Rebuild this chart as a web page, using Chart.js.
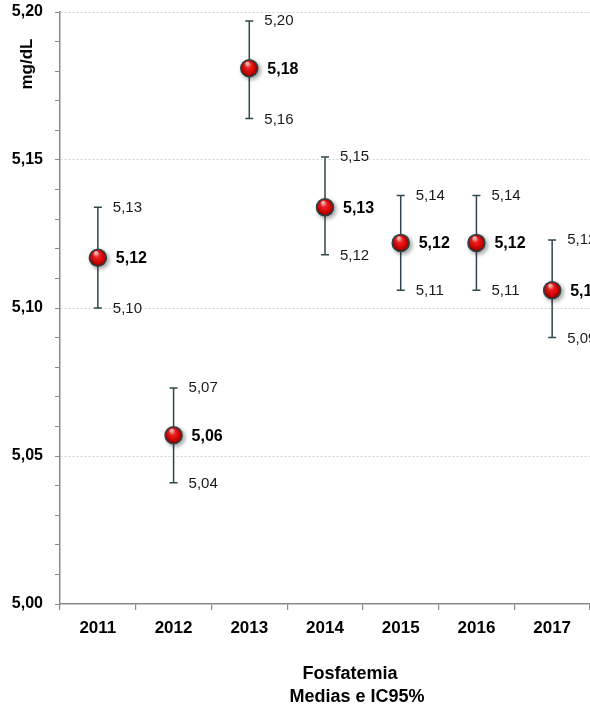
<!DOCTYPE html>
<html>
<head>
<meta charset="utf-8">
<script src="https://cdn.jsdelivr.net/npm/chart.js@4/dist/chart.umd.min.js"></script>
<style>
  html, body { margin: 0; padding: 0; background: #fff; overflow: hidden; }
  #wrap { position: relative; width: 600px; height: 711px; }
</style>
</head>
<body>
<div id="wrap"><canvas id="chart"></canvas></div>
<script>
// ==================== DATA ====================
const years = ['2011', '2012', '2013', '2014', '2015', '2016', '2017'];
const means = [5.117, 5.057, 5.181, 5.134, 5.122, 5.122, 5.106];
const upper = [5.134, 5.073, 5.197, 5.151, 5.138, 5.138, 5.123];
const lower = [5.100, 5.041, 5.164, 5.118, 5.106, 5.106, 5.090];
const yTicks = [5.00, 5.05, 5.10, 5.15, 5.20];

const FONT = '"Liberation Sans", Arial, sans-serif';
const fmt = v => v.toFixed(2).replace('.', ',');

// red glossy ball, built at each point's own position
function ballFill(context) {
  const chart = context.chart;
  const sx = chart.scales.x, sy = chart.scales.y;
  if (!sx || !sy || context.dataIndex === undefined) return '#d00';
  const x = sx.getPixelForValue(context.dataIndex);
  const y = sy.getPixelForValue(means[context.dataIndex]);
  if (!isFinite(x) || !isFinite(y)) return '#d00';
  const g = chart.ctx.createRadialGradient(x - 2, y - 5, 1, x, y, 9);
  g.addColorStop(0, '#ffc8c8');
  g.addColorStop(0.3, '#f42020');
  g.addColorStop(0.75, '#c80000');
  g.addColorStop(1, '#700000');
  return g;
}

// ==================== ERROR BARS + LABELS ====================
const errorBars = {
  id: 'errorBars',
  beforeDatasetsDraw(chart) {
    const { ctx, scales: { x, y } } = chart;
    ctx.save();
    ctx.strokeStyle = '#2e474c';
    ctx.lineWidth = 1.5;
    years.forEach((yr, i) => {
      const px = x.getPixelForValue(i);
      const top = y.getPixelForValue(upper[i]);
      const bot = y.getPixelForValue(lower[i]);
      ctx.beginPath();
      ctx.moveTo(px, top); ctx.lineTo(px, bot);
      ctx.moveTo(px - 4, top); ctx.lineTo(px + 4, top);
      ctx.moveTo(px - 4, bot); ctx.lineTo(px + 4, bot);
      ctx.stroke();
    });
    ctx.restore();
  },
  beforeDatasetDraw(chart) {
    const ctx = chart.ctx;
    ctx.save();
    ctx.shadowColor = 'rgba(0,0,0,0.35)';
    ctx.shadowBlur = 4;
    ctx.shadowOffsetX = 2;
    ctx.shadowOffsetY = 2;
  },
  afterDatasetDraw(chart) {
    chart.ctx.restore();
  },
  afterDatasetsDraw(chart) {
    const { ctx, scales: { x, y } } = chart;
    ctx.save();
    ctx.fillStyle = '#1a1a1a';
    ctx.textAlign = 'left';
    ctx.textBaseline = 'middle';
    years.forEach((yr, i) => {
      const px = x.getPixelForValue(i);
      ctx.font = '15px ' + FONT;
      ctx.fillText(fmt(upper[i]), px + 15, y.getPixelForValue(upper[i]));
      ctx.fillText(fmt(lower[i]), px + 15, y.getPixelForValue(lower[i]) + 1);
      ctx.font = 'bold 16px ' + FONT;
      ctx.fillStyle = '#000';
      ctx.fillText(fmt(means[i]), px + 18, y.getPixelForValue(means[i]) + 1);
      ctx.fillStyle = '#1a1a1a';
    });

    // axis title (top left, rotated)
    ctx.fillStyle = '#000';
    ctx.font = 'bold 17px ' + FONT;
    ctx.textAlign = 'center';
    ctx.translate(27, 64);
    ctx.rotate(-Math.PI / 2);
    ctx.fillText('mg/dL', 0, 0);
    ctx.restore();

    // bottom title
    ctx.save();
    ctx.fillStyle = '#000';
    ctx.font = 'bold 18px ' + FONT;
    ctx.textAlign = 'center';
    ctx.textBaseline = 'middle';
    ctx.fillText('Fosfatemia', 350, 674);
    ctx.fillText('Medias e IC95%', 357, 697);
    ctx.restore();
  }
};

// ==================== CHART ====================
new Chart(document.getElementById('chart'), {
  type: 'line',
  data: {
    labels: years,
    datasets: [{
      data: means,
      showLine: false,
      pointRadius: 8.5,
      pointHoverRadius: 8.5,
      pointBorderWidth: 1.5,
      pointBorderColor: '#2a4448',
      pointBackgroundColor: ballFill
    }]
  },
  options: {
    responsive: true,
    maintainAspectRatio: false,
    animation: false,
    layout: { padding: { top: 12, right: 8, left: 0, bottom: 0 } },
    plugins: {
      legend: { display: false },
      tooltip: { enabled: false }
    },
    scales: {
      x: {
        offset: true,
        grid: {
          offset: true,
          drawOnChartArea: false,
          tickLength: 6,
          tickColor: '#8a8a8a',
          lineWidth: 1.2
        },
        border: { color: '#8a8a8a', width: 1.5 },
        ticks: {
          color: '#000',
          font: { family: FONT, size: 17, weight: 'bold' },
          padding: 8,
          maxRotation: 0
        },
        afterFit(scale) {
          scale.height = 107;
          scale.paddingLeft = 0;
          scale.paddingRight = 0;
        }
      },
      y: {
        min: 5.00,
        max: 5.20,
        grid: {
          color: c => (c.tick && yTicks.some(t => Math.abs(t - c.tick.value) < 1e-6) && c.tick.value > 5.001) ? '#d2d2d2' : 'rgba(0,0,0,0)',
          tickColor: '#8a8a8a',
          tickLength: 5,
          lineWidth: 1
        },
        border: { color: '#8a8a8a', width: 1.5, dash: [2, 2] },
        ticks: {
          stepSize: 0.01,
          autoSkip: false,
          maxTicksLimit: 40,
          padding: 12,
          color: '#000',
          font: { family: FONT, size: 16, weight: 'bold' },
          callback: v => yTicks.some(t => Math.abs(t - v) < 1e-6) ? fmt(v) : ''
        },
        afterFit(scale) {
          scale.width = 60;
          scale.paddingTop = 0;
          scale.paddingBottom = 0;
        }
      }
    }
  },
  plugins: [errorBars]
});
</script>
</body>
</html>
